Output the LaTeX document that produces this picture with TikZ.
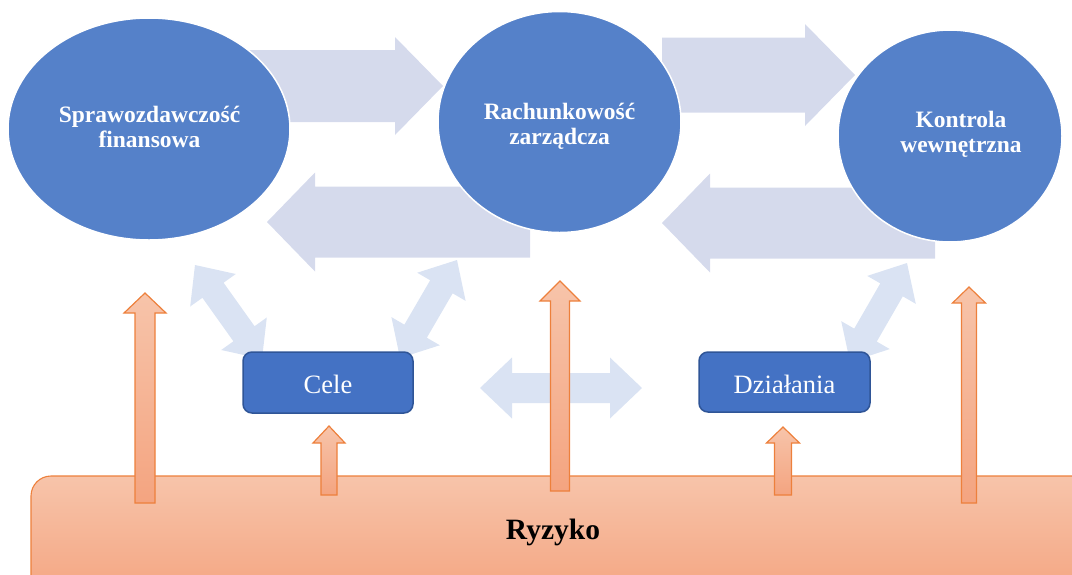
\documentclass[tikz,border=0pt]{standalone}
\usepackage{fontspec}
\setmainfont{Liberation Serif}
\usetikzlibrary{calc,shapes.geometric}

\definecolor{ovalblue}{RGB}{85,129,201}
\definecolor{boxblue}{RGB}{68,114,196}
\definecolor{boxedge}{RGB}{47,85,151}
\definecolor{flowlav}{RGB}{213,218,236}
\definecolor{linkblue}{RGB}{218,227,243}
\definecolor{riskedge}{RGB}{237,128,60}
\definecolor{risktop}{RGB}{247,196,170}
\definecolor{riskbot}{RGB}{244,164,128}

% block arrow: #1 style, #2 tail, #3 tip, #4 shaft width, #5 head width, #6 head length
\newcommand\blockarrow[6]{%
  \path[#1] let \p1=(#2), \p2=(#3),
      \n1={atan2(\y2-\y1,\x2-\x1)}, \n2={veclen(\x2-\x1,\y2-\y1)} in
    [shift={(\p1)}, rotate=\n1]
    (0,{-#4/2}) -- ({\n2-#6},{-#4/2}) -- ({\n2-#6},{-#5/2}) -- (\n2,0)
    -- ({\n2-#6},{#5/2}) -- ({\n2-#6},{#4/2}) -- (0,{#4/2}) -- cycle;}
% double-headed block arrow between two points, same arguments
\newcommand\twowayarrow[6]{%
  \path[#1] let \p1=(#2), \p2=(#3),
      \n1={atan2(\y2-\y1,\x2-\x1)}, \n2={veclen(\x2-\x1,\y2-\y1)} in
    [shift={(\p1)}, rotate=\n1]
    (0,0) -- (#6,{-#5/2}) -- (#6,{-#4/2}) -- ({\n2-#6},{-#4/2}) -- ({\n2-#6},{-#5/2})
    -- (\n2,0) -- ({\n2-#6},{#5/2}) -- ({\n2-#6},{#4/2}) -- (#6,{#4/2}) -- (#6,{#5/2}) -- cycle;}

\tikzset{
  oval/.style={ellipse, fill=ovalblue, draw=white, line width=1.5pt, inner sep=0pt},
  ovaltext/.style={text=white, align=center, font=\bfseries\fontsize{23.5}{25}\selectfont},
  stagebox/.style={rectangle, rounded corners=9pt, fill=boxblue, draw=boxedge, line width=1.5pt, inner sep=0pt},
  stagetext/.style={text=white, anchor=base, font=\fontsize{26.5}{30}\selectfont},
  flowarrow/.style={fill=flowlav},
  linkarrow/.style={fill=linkblue},
  riskarrow/.style={draw=riskedge, line width=1.2pt, top color=risktop, bottom color=riskbot},
  riskbase/.style={rectangle, rounded corners=20pt, draw=riskedge, line width=1.1pt,
                   top color=risktop, bottom color=riskbot, inner sep=0pt},
}

\begin{document}
\begin{tikzpicture}[x=1pt, y=-1pt]
  \useasboundingbox (0,0) rectangle (1072,574);
  \clip (0,0) rectangle (1072,574);

  % wide flow arrows between the three areas
  \coordinate (f1a) at (183,86);  \coordinate (f1b) at (443,86);
  \coordinate (f2a) at (662,75);  \coordinate (f2b) at (855,75);
  \coordinate (b1a) at (530,222); \coordinate (b1b) at (267,222);
  \coordinate (b2a) at (935,223); \coordinate (b2b) at (662,223);
  \blockarrow{flowarrow}{f1a}{f1b}{72}{98}{48}
  \blockarrow{flowarrow}{f2a}{f2b}{75}{102}{50}
  \blockarrow{flowarrow}{b1a}{b1b}{71}{99}{48}
  \blockarrow{flowarrow}{b2a}{b2b}{71}{99}{48}

  % the three areas
  \node[oval, minimum width=282pt, minimum height=222pt] (sf) at (149,129) {};
  \node[oval, minimum width=243pt, minimum height=221pt] (rz) at (559.5,122) {};
  \node[oval, minimum width=224pt, minimum height=212pt] (kw) at (950,136) {};
  \node[ovaltext] (sft) at (149.5,127) {Sprawozdawczość\\finansowa};
  \node[ovaltext] (rzt) at (559.5,126) {Rachunkowość\\zarządcza};
  \node[ovaltext] (kwt) at (961,134) {Kontrola\\wewnętrzna};

  % two-way links to goals and actions
  \coordinate (l1a) at (195,265); \coordinate (l1b) at (262,359);
  \coordinate (l2a) at (457,260); \coordinate (l2b) at (400,358);
  \coordinate (l3a) at (907,263); \coordinate (l3b) at (850,362);
  \coordinate (l4a) at (480,388); \coordinate (l4b) at (642,388);
  \twowayarrow{linkarrow}{l1a}{l1b}{26}{56}{31}
  \twowayarrow{linkarrow}{l2a}{l2b}{26}{56}{31}
  \twowayarrow{linkarrow}{l3a}{l3b}{26}{56}{31}
  \twowayarrow{linkarrow}{l4a}{l4b}{30}{61}{32}

  % goals and actions
  \node[stagebox, minimum width=170pt, minimum height=61pt] (cele) at (328,382.5) {};
  \node[stagebox, minimum width=171pt, minimum height=60pt] (dzial) at (784.5,382) {};
  \node[stagetext] (celet) at (328,393) {Cele};
  \node[stagetext] (dzialt) at (784.5,393) {Działania};

  % risk base
  \node[riskbase, minimum width=1061pt, minimum height=124pt] (risk) at (561.5,538) {};
  \node[font=\bfseries\fontsize{29.5}{32}\selectfont, anchor=base] (riskt) at (553,539) {Ryzyko};

  % risk arrows rising from the base
  \coordinate (r1a) at (145,503); \coordinate (r1b) at (145,293);
  \coordinate (r2a) at (329,495); \coordinate (r2b) at (329,426);
  \coordinate (r3a) at (560,491); \coordinate (r3b) at (560,281);
  \coordinate (r4a) at (783,495); \coordinate (r4b) at (783,427);
  \coordinate (r5a) at (969,503); \coordinate (r5b) at (969,287);
  \blockarrow{riskarrow}{r1a}{r1b}{20}{42}{20}
  \blockarrow{riskarrow}{r2a}{r2b}{16}{32}{17}
  \blockarrow{riskarrow}{r3a}{r3b}{19}{40}{20}
  \blockarrow{riskarrow}{r4a}{r4b}{17}{33}{16}
  \blockarrow{riskarrow}{r5a}{r5b}{15}{33}{16}
\end{tikzpicture}
\end{document}
